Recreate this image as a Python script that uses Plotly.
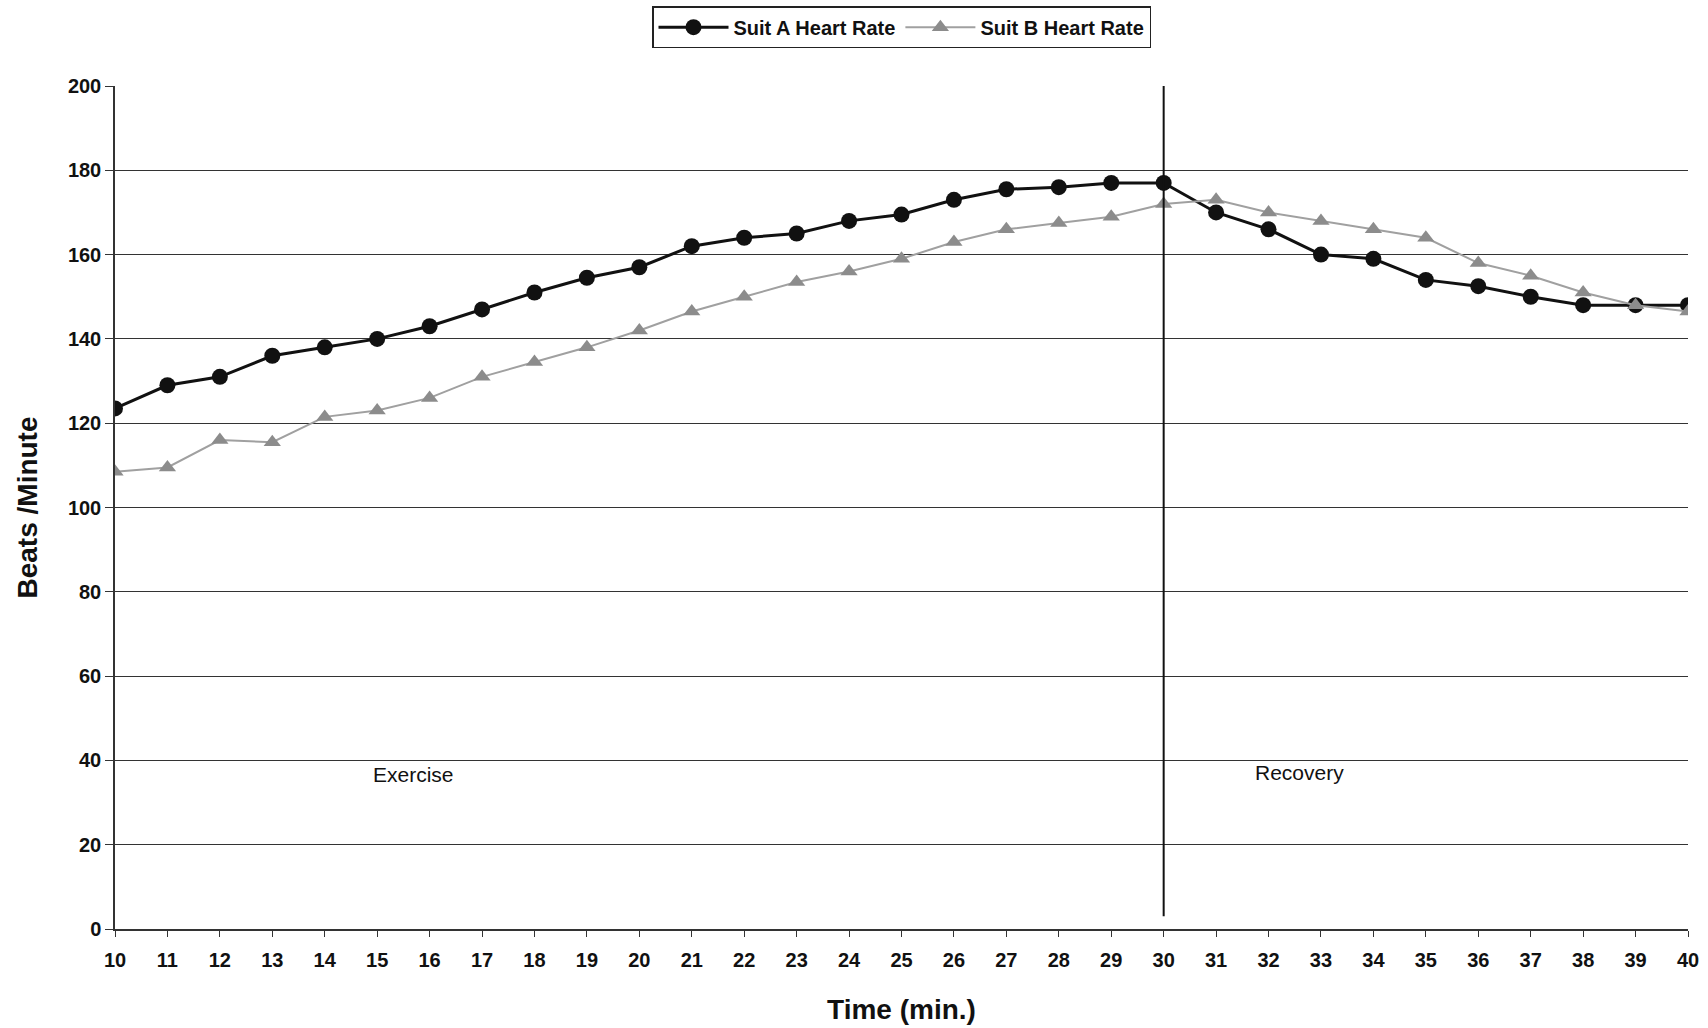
import plotly.graph_objects as go

minutes = list(range(10, 41))
suit_a = [123.5, 129, 131, 136, 138, 140, 143, 147, 151, 154.5, 157, 162, 164, 165, 168, 169.5,
          173, 175.5, 176, 177, 177, 170, 166, 160, 159, 154, 152.5, 150, 148, 148, 148]
suit_b = [108.5, 109.5, 116, 115.5, 121.5, 123, 126, 131, 134.5, 138, 142, 146.5, 150, 153.5, 156,
          159, 163, 166, 167.5, 169, 172, 173, 170, 168, 166, 164, 158, 155, 151, 148, 146.5]
y_ticks = list(range(0, 201, 20))
phase_labels = ["Exercise", "Recovery"]
phase_x = [15.7, 32.6]
phase_y = [36.7, 37.2]
divider_x = 30

FONT = "Liberation Sans, Arial, sans-serif"

fig = go.Figure()
fig.add_trace(go.Scatter(
    x=minutes, y=suit_a, name="Suit A Heart Rate", mode="lines+markers",
    line=dict(color="#111111", width=3),
    marker=dict(symbol="circle", size=16, color="#111111"),
))
fig.add_trace(go.Scatter(
    x=minutes, y=suit_b, name="Suit B Heart Rate", mode="lines+markers",
    line=dict(color="#a0a0a0", width=2),
    marker=dict(symbol="triangle-up", size=15, color="#8c8c8c"),
))

fig.add_shape(type="line", x0=divider_x, x1=divider_x, y0=3, y1=200,
              xref="x", yref="y", line=dict(color="#111111", width=2))

for lbl, px, py in zip(phase_labels, phase_x, phase_y):
    fig.add_annotation(x=px, y=py, text=lbl, showarrow=False,
                       font=dict(family=FONT, size=21, color="#111111"))

fig.update_layout(
    width=1708, height=1028,
    paper_bgcolor="white", plot_bgcolor="white",
    margin=dict(l=115, r=20, t=86, b=99),
    font=dict(family=FONT, color="#111111"),
    legend=dict(orientation="h", x=0.5, xanchor="center", y=0.994, yref="container",
                yanchor="top", borderwidth=1.5, bordercolor="#222222",
                font=dict(family=FONT, size=20, color="#111111", weight="bold"),
                itemwidth=70, traceorder="normal"),
    xaxis=dict(
        range=[10, 40], tickmode="array", tickvals=minutes,
        ticks="outside", ticklen=6, tickcolor="#333333",
        ticklabelstandoff=6, automargin=False,
        showgrid=False, zeroline=False,
        showline=True, linecolor="#333333", linewidth=1.5,
        tickfont=dict(family=FONT, size=20, color="#111111", weight="bold"),
        title=dict(text="<b>Time (min.)</b>", font=dict(family=FONT, size=28, color="#111111"),
                   standoff=30),
    ),
    yaxis=dict(
        range=[0, 200], tickmode="array", tickvals=y_ticks,
        ticks="outside", ticklen=8, tickcolor="#333333",
        automargin=False,
        showgrid=True, gridcolor="#333333", gridwidth=1,
        zeroline=False, showline=True, linecolor="#333333", linewidth=1.5,
        tickfont=dict(family=FONT, size=20, color="#111111", weight="bold"),
        title=dict(text="<b>Beats /Minute</b>", font=dict(family=FONT, size=28, color="#111111"),
                   standoff=22),
    ),
)

fig.write_html("out.html")
